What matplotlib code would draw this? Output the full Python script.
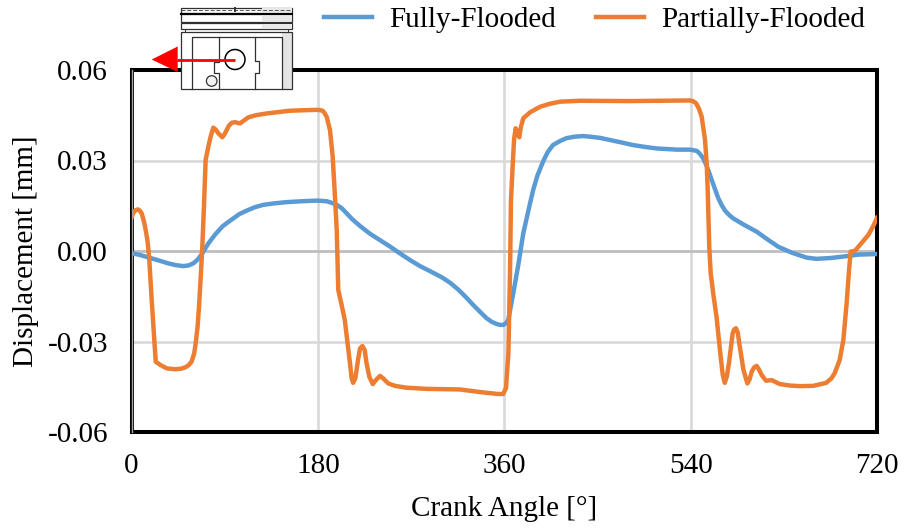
import matplotlib
matplotlib.use("Agg")
import matplotlib.pyplot as plt
from matplotlib.patches import Rectangle, Circle, Polygon

plt.rcParams['font.family'] = ['Liberation Serif', 'DejaVu Serif']

series_names = ["Fully-Flooded", "Partially-Flooded"]
x_label = "Crank Angle [°]"
y_label = "Displacement [mm]"
x_ticks = [0, 180, 360, 540, 720]
y_ticks = [-0.06, -0.03, 0.0, 0.03, 0.06]
y_tick_labels = ["-0.06", "-0.03", "0.00", "0.03", "0.06"]

full_curve = [
    (0, -0.0007), (8, -0.0013), (16, -0.0021), (26, -0.0031), (35.5, -0.0041), (43, -0.0047), (50, -0.005),
    (55, -0.0048), (59.7, -0.0041), (64, -0.0028), (67.8, -0.0011), (74, 0.0024), (80.6, 0.0054), (88, 0.0082),
    (93, 0.0095), (98.3, 0.0108), (104, 0.0122), (111.3, 0.0134), (119, 0.0145), (127.3, 0.0153), (138, 0.0158),
    (149.9, 0.0162), (165, 0.0165), (178.9, 0.0167), (188.5, 0.0165), (193, 0.016), (198.2, 0.0153), (203, 0.0142),
    (207.8, 0.0125), (213, 0.0106), (220.7, 0.0083), (230, 0.0058), (240, 0.0036), (250, 0.0014), (259.3, -0.0008),
    (269, -0.003), (278.6, -0.005), (289, -0.0068), (299.6, -0.0087), (308, -0.0106), (315.6, -0.0128), (323, -0.0153),
    (330, -0.0179), (337, -0.0203), (343, -0.0223), (348, -0.0235), (352.7, -0.0242), (356, -0.0245), (359, -0.0245),
    (361.5, -0.024), (363.9, -0.0229), (366, -0.019), (368.7, -0.014), (373.6, -0.0045), (378.4, 0.0059), (384.9, 0.0158),
    (388, 0.0203), (392, 0.025), (397.7, 0.0298), (402, 0.0328), (407, 0.0351), (413, 0.0363), (420, 0.0374),
    (428, 0.0379), (436, 0.0381), (442.8, 0.0379), (452.5, 0.0375), (462, 0.0368), (473, 0.036), (484.6, 0.0351),
    (496, 0.0345), (507, 0.034), (526.6, 0.0336), (539.4, 0.0336), (545.9, 0.0332), (549, 0.0322), (552.2, 0.0307),
    (555.5, 0.0282), (558.7, 0.0252), (562.5, 0.0215), (566.7, 0.0175), (570, 0.0152), (573.2, 0.0134), (577, 0.012),
    (581.2, 0.0108), (592, 0.0086), (603.8, 0.0064), (614, 0.0039), (624.7, 0.0014), (638, -0.0006), (652, -0.0022),
    (661.7, -0.0026), (676, -0.0023), (690.7, -0.0017), (702, -0.0012), (720, -0.001),
]
part_curve = [
    (0, 0.011), (1.5, 0.0125), (3.5, 0.0134), (6, 0.0138), (8, 0.0134), (9.8, 0.0125), (12, 0.0098), (13.7, 0.007),
    (15.5, 0.0032), (17, -0.0019), (19.5, -0.0162), (21.5, -0.027), (23.4, -0.0367), (28, -0.0378), (34, -0.0389),
    (42, -0.0392), (48, -0.039), (51.7, -0.0386), (55, -0.0379), (58, -0.0367), (60.5, -0.034), (62, -0.0306),
    (63.8, -0.0252), (65.2, -0.0185), (66.8, -0.009), (68.4, 0.0014), (70, 0.015), (71.6, 0.0302), (74.2, 0.0346),
    (76.5, 0.038), (79, 0.0409), (81.5, 0.0402), (83.9, 0.039), (87.7, 0.0377), (90, 0.0388), (91.9, 0.0401),
    (94, 0.0415), (96.8, 0.0425), (100, 0.0427), (104.8, 0.0423), (108, 0.0431), (112.8, 0.0443), (120, 0.045),
    (130.6, 0.0456), (153, 0.0465), (178.9, 0.0468), (182, 0.0467), (184.6, 0.0465), (186.5, 0.0457), (188.5, 0.0445),
    (191.7, 0.0401), (194.3, 0.0313), (196.5, 0.018), (198.2, 0.007), (199.7, -0.0129), (203, -0.018), (206, -0.0229),
    (208.5, -0.03), (211, -0.0372), (212.6, -0.0422), (214, -0.0437), (216.2, -0.0422), (219, -0.0356), (220.7, -0.0323),
    (223, -0.0315), (225.2, -0.0328), (227, -0.0372), (229.7, -0.0417), (233, -0.0441), (236, -0.0428), (240, -0.0414),
    (243, -0.0422), (248, -0.0439), (254.5, -0.0447), (265, -0.0453), (285, -0.0457), (317, -0.0459), (340, -0.0469),
    (354, -0.0474), (359, -0.0474), (361.7, -0.0454), (364, -0.0338), (365, -0.0172), (365.6, -0.0063), (366.5, 0.0169),
    (368.4, 0.0302), (369.5, 0.037), (371, 0.0407), (372.5, 0.0395), (374.5, 0.0377), (376, 0.041), (378.4, 0.044),
    (385, 0.046), (394.5, 0.0478), (404, 0.0488), (414, 0.0495), (433, 0.0498), (480, 0.0497), (539.4, 0.0499),
    (542, 0.0497), (545.2, 0.049), (548, 0.0472), (550.7, 0.0445), (553.9, 0.0368), (555.5, 0.0291), (556.5, 0.0202),
    (558, 0.0014), (559.4, -0.0074), (562, -0.0145), (565, -0.0218), (569, -0.035), (571, -0.041), (573, -0.0437),
    (575, -0.0415), (577, -0.0372), (580.6, -0.0273), (582, -0.026), (583.8, -0.0256), (585.5, -0.027), (587, -0.0306),
    (591, -0.0394), (594.8, -0.0439), (597, -0.0425), (599, -0.04), (601.5, -0.0385), (603.8, -0.0381), (606, -0.0393),
    (608.6, -0.0411), (612.8, -0.043), (618.3, -0.0428), (626, -0.0441), (636, -0.0446), (645.6, -0.0448),
    (658.5, -0.0447), (671, -0.0437), (676, -0.0422), (679, -0.0406), (684, -0.0361), (687.5, -0.0295), (690.7, -0.0172),
    (693, -0.0063), (694.6, -0.0002), (698.8, 0.0001), (705, 0.0026), (711.6, 0.0053), (716, 0.008), (720, 0.011),
]
full_angle = [p[0] for p in full_curve]
full_disp = [p[1] for p in full_curve]
part_angle = [p[0] for p in part_curve]
part_disp = [p[1] for p in part_curve]

W, H = 905, 530
fig = plt.figure(figsize=(W/100, H/100), dpi=100)
L, R, T, B = 131.5, 877, 70, 432
ax = fig.add_axes([L/W, 1-B/H, (R-L)/W, (B-T)/H])
ax.set_xlim(0, 720)
ax.set_ylim(-0.06, 0.06)
ax.set_xticks(x_ticks)
ax.set_yticks(y_ticks)
ax.set_yticklabels(y_tick_labels)
ax.tick_params(length=0, labelsize=21)
ax.tick_params(axis='x', pad=15)
ax.tick_params(axis='y', pad=17)
ax.grid(True, color='#d9d9d9', lw=1.9)
ax.set_axisbelow(True)
ax.axhline(0, color='#bfbfbf', lw=1.9, zorder=1)
for s in ax.spines.values():
    s.set_linewidth(2.9)
    s.set_color('black')
ax.axvline(0, color='#a6a6a6', lw=1.0, zorder=6, clip_on=False)

blue, orange = '#5b9bd5', '#ed7d31'
l1, = ax.plot(full_angle, full_disp, color=blue, lw=3.2, label=series_names[0], solid_joinstyle='round', zorder=3)
l2, = ax.plot(part_angle, part_disp, color=orange, lw=3.2, label=series_names[1], solid_joinstyle='round', zorder=4)

ax.set_xlabel(x_label, fontsize=21)
ax.set_ylabel(y_label, fontsize=21)
ax.xaxis.set_label_coords(0.5, -0.178)
ax.yaxis.set_label_coords(-0.1235, 0.5)

fig.legend(handles=[l1, l2], ncols=2, frameon=False, fontsize=21,
           loc='center', bbox_to_anchor=(594.5/W, 1-20/H), handlelength=1.65,
           handletextpad=0.58, columnspacing=1.4, borderpad=0, borderaxespad=0)

# Piston sketch in pixel coordinates
ov = fig.add_axes([0, 0, 1, 1], zorder=5)
ov.set_xlim(0, W); ov.set_ylim(H, 0); ov.axis('off'); ov.patch.set_alpha(0)
edge = '#303030'
ov.add_patch(Rectangle((181, 32), 111, 57, fc='white', ec='none'))
ov.add_patch(Rectangle((282, 32), 10, 57, fc='#e4e4e4', ec='none'))
ov.add_patch(Rectangle((181, 32), 111, 57, fc='none', ec=edge, lw=0.9))
for y0, h in [(7.5, 5.5), (14, 7.5), (23, 6)]:
    ov.add_patch(Rectangle((181, y0), 111, h, fc='white', ec=edge, lw=0.9))
    ov.add_patch(Rectangle((262, y0 + 0.6), 29.5, h - 1.2, fc='#e8e8e8', ec='none'))
ov.plot([181, 292], [13.5, 13.5], color='black', lw=1.5)
ov.plot([181, 292], [9.5, 9.5], color='#555555', lw=0.7, ls=(0, (4, 2)))
ov.plot([235, 235], [7.5, 11], color='#333333', lw=1.4)
ov.plot([185, 185, 288, 288], [32, 29, 29, 32], color=edge, lw=0.7)
ov.plot([192, 192, 282, 282], [89, 37, 37, 89], color=edge, lw=0.9)
ov.plot([218.5, 218.5, 214, 214, 218.5, 218.5], [37, 62, 62, 73, 73, 89], color=edge, lw=0.9)
ov.plot([254.5, 254.5, 259, 259, 254.5, 254.5], [37, 61, 61, 73, 73, 89], color=edge, lw=0.9)
ov.add_patch(Circle((235, 59.5), 10, fc='white', ec='black', lw=1.1))
ov.add_patch(Circle((211.7, 81), 5.3, fc='#f2f2f2', ec='#333333', lw=0.9))
ov.plot([177, 235], [59.5, 59.5], color='red', lw=2.0, solid_capstyle='butt')
ov.add_patch(Polygon([(151.7, 59.5), (177.7, 46.5), (177.7, 72)], fc='red', ec='none'))

fig.savefig('out.png', dpi=100, facecolor='white')
